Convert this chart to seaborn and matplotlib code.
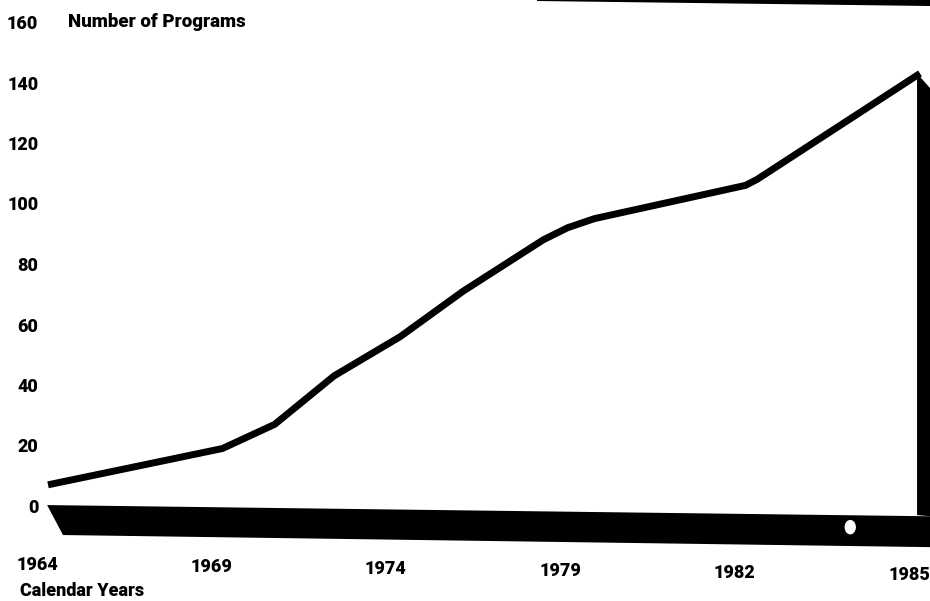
import numpy as np
import matplotlib
matplotlib.use("Agg")
import matplotlib.pyplot as plt
import seaborn as sns
from matplotlib.patches import Polygon, Ellipse
from matplotlib.transforms import ScaledTranslation

# values
tick_years = [1964, 1969, 1974, 1979, 1982, 1985]
years = [1964, 1969, 1970.5, 1972.2, 1974.1, 1975.9, 1978.2, 1978.9, 1979.4, 1982.0, 1982.2, 1985]
programs = [7, 19, 27, 43, 56, 71, 88, 92, 95, 106, 108, 143]
y_ticks = [0, 20, 40, 60, 80, 100, 120, 140, 160]

sns.set_theme(style="white")
plt.rcParams['font.family'] = ['Roboto', 'Liberation Sans', 'DejaVu Sans']
plt.rcParams['font.weight'] = 'black'
plt.rcParams['text.color'] = 'black'
plt.rcParams['xtick.color'] = 'black'
plt.rcParams['ytick.color'] = 'black'

# the year axis is drawn with evenly spaced ticks, so map years onto tick index
xpos = np.interp(years, tick_years, np.arange(len(tick_years)))

fig = plt.figure(figsize=(9.3, 6.01), dpi=100)
ax = fig.add_axes([48/930, 95/601, 872/930, 484/601])

sns.lineplot(x=xpos, y=programs, ax=ax, color='black', linewidth=5,
             solid_capstyle='butt', solid_joinstyle='round', clip_on=False)

ax.set_xlim(0, len(tick_years) - 1)
ax.set_ylim(0, 160)
for s in ax.spines.values():
    s.set_visible(False)
ax.tick_params(length=0, labelsize=13)

ax.set_yticks(y_ticks)
ax.set_yticklabels([str(v) for v in y_ticks], fontweight='black')
ax.tick_params(axis='y', pad=7)

ax.set_xticks(np.arange(len(tick_years)))
ax.set_xticklabels([str(y) for y in tick_years], fontweight='black')
ax.tick_params(axis='x', pad=36)
for i, lab in enumerate(ax.get_xticklabels()):
    lab.set_transform(lab.get_transform() +
                      ScaledTranslation(-0.11, -0.02 * i, fig.dpi_scale_trans))

# black base slab under the chart
x_end = len(tick_years) - 1
slab = Polygon([(-0.005, 0.3), (x_end + 0.06, -3.4), (x_end + 0.06, -13.6), (0.086, -9.6)],
               closed=True, facecolor='black', edgecolor='none', clip_on=False)
ax.add_patch(slab)
ax.add_patch(Ellipse((4.6, -7.0), 0.065, 4.8, facecolor='white', edgecolor='none', clip_on=False))

# vertical side bar at the end of the line
bar = Polygon([(x_end - 0.017, programs[-1]), (x_end + 0.06, programs[-1] - 5),
               (x_end + 0.06, -3.4), (x_end - 0.017, -3.0)],
              closed=True, facecolor='black', edgecolor='none', clip_on=False)
ax.add_patch(bar)

ax.text(20/872, 1.0, 'Number of Programs', transform=ax.transAxes,
        fontsize=13.5, fontweight='black', va='center', ha='left')
fig.text(20/930, 1 - 591/601, 'Calendar Years', fontsize=13, fontweight='black',
         va='center', ha='left')

# dark strip along the top edge of the scan
fig.add_artist(Polygon([(537/930, 1.0), (1.0, 1.0), (1.0, 1 - 6/601), (537/930, 1 - 1/601)],
                       closed=True, facecolor='black', edgecolor='none',
                       transform=fig.transFigure))

fig.savefig('out.png', dpi=100, facecolor='white')
